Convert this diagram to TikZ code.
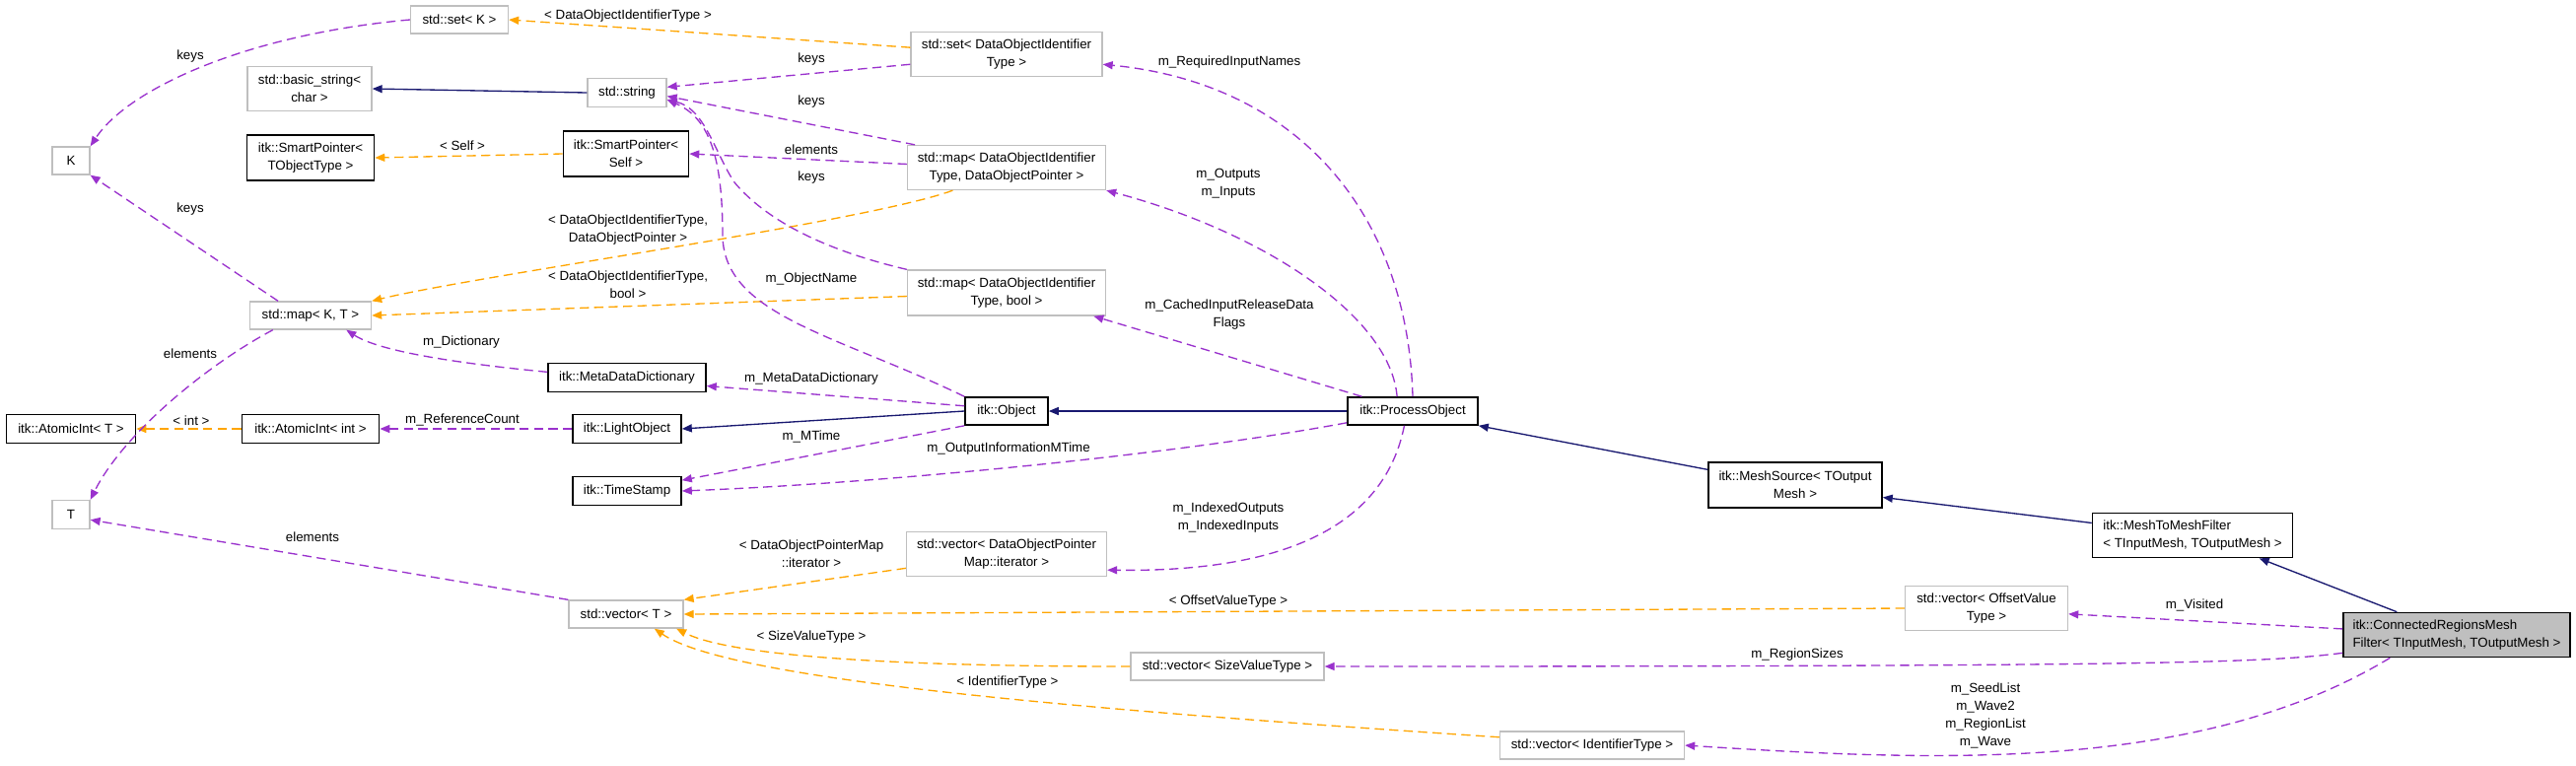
\documentclass[tikz,border=0pt]{standalone}
\usepackage{fontspec}
\setmainfont{Liberation Sans}
\usetikzlibrary{arrows.meta}
\usepackage{xcolor}
\definecolor{midnight}{HTML}{191970}
\definecolor{tplorange}{HTML}{FFA500}
\definecolor{orchid}{HTML}{9A32CD}
\definecolor{boxgray}{HTML}{BFBFBF}

\begin{document}
\begin{tikzpicture}[
    x=0.75pt, y=-0.75pt,
    font=\fontsize{10}{13.5}\selectfont,
    cls/.style 2 args={draw=black, line width=1.2pt, fill=white, inner sep=0pt, align=center, minimum width=#1*0.75pt, minimum height=#2*0.75pt},
    ext/.style 2 args={draw=boxgray, line width=1pt, fill=white, inner sep=0pt, align=center, minimum width=#1*0.75pt, minimum height=#2*0.75pt},
    inherit/.style={-{Triangle[length=7.5pt, width=6pt]}, line width=1pt, color=midnight},
    inst/.style={-{Triangle[length=7.5pt, width=6pt]}, line width=1pt, dash pattern=on 7pt off 4pt, color=tplorange},
    member/.style={-{Triangle[length=7.5pt, width=6pt]}, line width=1pt, dash pattern=on 7pt off 4pt, color=orchid},
    tag/.style={text=black, inner sep=0pt, align=center},
]
\useasboundingbox (0,0) rectangle (2613,776);

\node[ext={99}{28}] (setk) at (466,20) {std::set< K >};
\node[ext={194}{45}] (setdoit) at (1021,55) {std::set< DataObjectIdentifier\\Type >};
\node[ext={126}{45}] (basicstr) at (314,90) {std::basic\_string<\\char >};
\node[ext={80}{29}] (stdstring) at (636,94) {std::string};
\node[ext={38}{28}] (k) at (72,163) {K};
\node[cls={129}{46}] (spobj) at (315,160) {itk::SmartPointer<\\TObjectType >};
\node[cls={127}{46}] (spself) at (635,156) {itk::SmartPointer<\\Self >};
\node[ext={201}{45}] (mapdop) at (1021,170) {std::map< DataObjectIdentifier\\Type, DataObjectPointer >};
\node[ext={123}{28}] (mapkt) at (315,320) {std::map< K, T >};
\node[ext={201}{46}] (mapbool) at (1021,297) {std::map< DataObjectIdentifier\\Type, bool >};
\node[cls={160}{29}] (mdd) at (636,383) {itk::MetaDataDictionary};
\node[cls={131}{29}] (ait) at (72,435) {itk::AtomicInt< T >};
\node[cls={139}{29}] (aiint) at (315,435) {itk::AtomicInt< int >};
\node[cls={110}{29}] (lightobj) at (636,435) {itk::LightObject};
\node[cls={84}{28}] (object) at (1021,417) {itk::Object};
\node[cls={132}{28}] (procobj) at (1433,417) {itk::ProcessObject};
\node[cls={110}{29}] (timestamp) at (636,498) {itk::TimeStamp};
\node[ext={38}{29}] (t) at (72,522) {T};
\node[ext={203}{45}] (vecdop) at (1021,562) {std::vector< DataObjectPointer\\Map::iterator >};
\node[ext={116}{28}] (vect) at (635,623) {std::vector< T >};
\node[ext={196}{28}] (vecsize) at (1245,676) {std::vector< SizeValueType >};
\node[ext={187}{28}] (vecid) at (1615,756) {std::vector< IdentifierType >};
\node[cls={176}{46}] (meshsrc) at (1821,492) {itk::MeshSource< TOutput\\Mesh >};
\node[cls={203}{45}, align=left] (mtmf) at (2224,543) {itk::MeshToMeshFilter\\< TInputMesh, TOutputMesh >};
\node[ext={165}{45}] (vecoff) at (2015,617) {std::vector< OffsetValue\\Type >};
\node[cls={230}{45}, fill=boxgray, align=left] (cr) at (2492,644) {itk::ConnectedRegionsMesh\\Filter< TInputMesh, TOutputMesh >};

\draw[inherit] (stdstring.west) -- (basicstr.east);
\draw[inherit] (object.west) -- (lightobj.east);
\draw[inherit] (procobj.west) -- (object.east);
\draw[inherit] (meshsrc.170) -- (procobj.south east);
\draw[inherit] (mtmf.173) -- (meshsrc.-8);
\draw[inherit] (cr.159) -- (mtmf.-19);

\draw[inst] (setdoit.176) -- (setk.east) node[tag] (t1) at (637,16) {< DataObjectIdentifierType >};
\draw[inst] (spself.west) -- (spobj.east) node[tag] (t2) at (469,148) {< Self >};
\draw[inst] (mapdop.203) .. controls (880,225) and (480,280) .. (mapkt.north east) node[tag] (t3) at (637,233) {< DataObjectIdentifierType,\\DataObjectPointer >};
\draw[inst] (mapbool.182) -- (mapkt.east) node[tag] (t4) at (637,289) {< DataObjectIdentifierType,\\bool >};
\draw[inst] (aiint.west) -- (ait.east) node[tag] (t5) at (194,427) {< int >};
\draw[inst] (vecdop.188) -- (vect.north east) node[tag] (t6) at (823,562) {< DataObjectPointerMap\\::iterator >};
\draw[inst] (vecoff.west) -- (vect.east) node[tag] (t7) at (1246,610) {< OffsetValueType >};
\draw[inst] (vecsize.west) .. controls (900,676) and (740,665) .. (vect.-16) node[tag] (t8) at (823,646) {< SizeValueType >};
\draw[inst] (vecid.175) .. controls (1100,720) and (740,690) .. (vect.-27) node[tag] (t9) at (1022,692) {< IdentifierType >};

\draw[member] (setk.west) .. controls (250,35) and (130,90) .. (k.north east) node[tag] (m1) at (193,57) {keys};
\draw[member] (mapkt.156) -- (k.south east) node[tag] (m2) at (193,212) {keys};
\draw[member] (mapkt.201) .. controls (210,370) and (125,440) .. (t.north east) node[tag] (m3) at (193,359) {elements};
\draw[member] (vect.north west) -- (t.-15) node[tag] (m4) at (317,545) {elements};
\draw[member] (setdoit.186) -- (stdstring.8) node[tag] (m5) at (823,60) {keys};
\draw[member] (mapdop.166) -- (stdstring.-5) node[tag] (m6) at (823,103) {keys};
\draw[member] (mapdop.178) -- (spself.east) node[tag] (m7) at (823,152) {elements};
\draw[member] (mapbool.north west) .. controls (820,250) and (770,215) .. (745,185) .. controls (725,155) and (715,110) .. (stdstring.-10) node[tag] (m8) at (823,180) {keys};
\draw[member] (object.north west) .. controls (850,340) and (735,320) .. (733,240) .. controls (733,160) and (720,120) .. (stdstring.-10) node[tag] (m9) at (823,283) {m\_ObjectName};
\draw[member] (mdd.176) .. controls (500,372) and (390,360) .. (mapkt.-22) node[tag] (m10) at (468,347) {m\_Dictionary};
\draw[member] (object.173) -- (mdd.-6) node[tag] (m11) at (823,384) {m\_MetaDataDictionary};
\draw[member] (lightobj.west) -- (aiint.east) node[tag] (m12) at (469,426) {m\_ReferenceCount};
\draw[member] (object.south west) -- (timestamp.11) node[tag] (m13) at (823,443) {m\_MTime};
\draw[member] (procobj.190) .. controls (1200,460) and (900,490) .. (timestamp.east) node[tag] (m14) at (1023,455) {m\_OutputInformationMTime};
\draw[member] (procobj.north) .. controls (1428,220) and (1320,85) .. (setdoit.-6) node[tag] (m15) at (1247,63) {m\_RequiredInputNames};
\draw[member] (procobj.137) .. controls (1410,320) and (1280,235) .. (mapdop.south east) node[tag] (m16) at (1246,186) {m\_Outputs\\m\_Inputs};
\draw[member] (procobj.164) -- (mapbool.-15) node[tag] (m17) at (1247,319) {m\_CachedInputReleaseData\\Flags};
\draw[member] (procobj.240) .. controls (1400,555) and (1260,580) .. (vecdop.-9) node[tag] (m18) at (1246,525) {m\_IndexedOutputs\\m\_IndexedInputs};
\draw[member] (cr.177) -- (vecoff.-4) node[tag] (m19) at (2226,614) {m\_Visited};
\draw[member] (cr.189) .. controls (2300,672) and (2200,676) .. (vecsize.east) node[tag] (m20) at (1823,664) {m\_RegionSizes};
\draw[member] (cr.199) .. controls (2230,785) and (1960,772) .. (vecid.east) node[tag] (m21) at (2014,726) {m\_SeedList\\m\_Wave2\\m\_RegionList\\m\_Wave};

\end{tikzpicture}
\end{document}
